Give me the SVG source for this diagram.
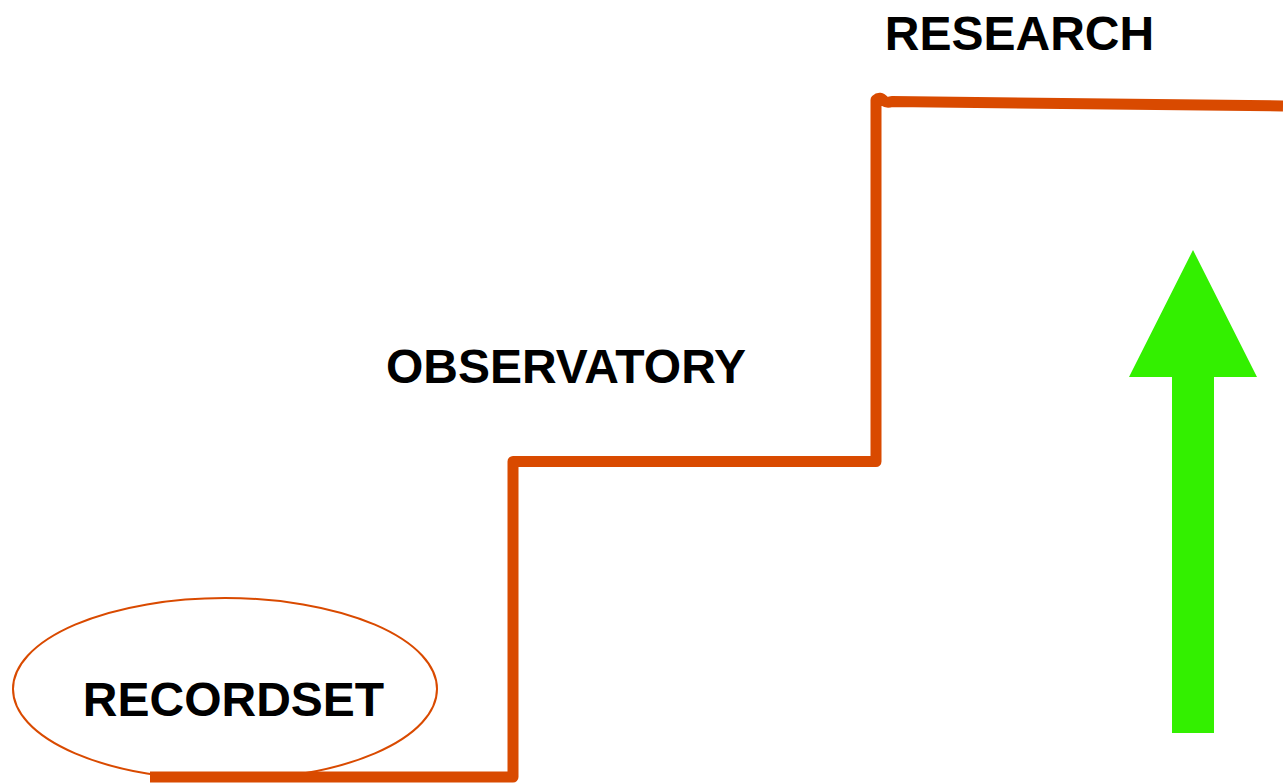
<svg xmlns="http://www.w3.org/2000/svg" width="1283" height="783" viewBox="0 0 1283 783">
<style>
.lbl{font-family:"Liberation Sans",Arial,sans-serif;font-weight:bold;font-size:48px;fill:#000;text-anchor:middle}
.stair{fill:none;stroke:#d94a00;stroke-width:11;stroke-linejoin:round}
</style>
<rect width="1283" height="783" fill="#fff"/>
<g id="recordset">
<ellipse cx="225" cy="689" rx="212" ry="91" fill="#fff" stroke="#d94a00" stroke-width="2"/>
<text class="lbl" x="233.5" y="716">RECORDSET</text>
</g>
<g id="observatory">
<text class="lbl" x="566" y="383">OBSERVATORY</text>
</g>
<g id="research">
<text class="lbl" x="1019.5" y="50">RESEARCH</text>
</g>
<g id="connectors">
<path class="stair" d="M150 777 H513 V461.5 H876 V100 Q880 96 884 101 Q887 103 892 101.5 L1283 106"/>
</g>
<g id="arrow">
<polygon points="1193,250 1257,377 1214,377 1214,733 1172,733 1172,377 1129,377" fill="#33f000"/>
</g>
</svg>
